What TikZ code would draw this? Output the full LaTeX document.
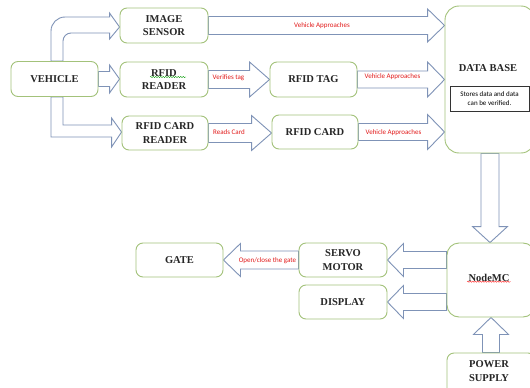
\documentclass[tikz,border=0pt]{standalone}
\usepackage{fontspec}
\setmainfont{Liberation Serif}
\newfontfamily\labfont{Carlito}
\usetikzlibrary{calc,decorations.pathmorphing}
\definecolor{boxgreen}{HTML}{A3C27A}
\definecolor{arrblue}{HTML}{7F93B7}
\definecolor{labred}{HTML}{E21B1B}
\pgfdeclarelayer{bg}
\pgfsetlayers{bg,main}
\tikzset{
  box/.style={draw=boxgreen,line width=0.9pt,fill=white,rounded corners=7pt,
    align=center,font=\fontsize{10.5}{13.5}\selectfont\bfseries,text=black!85,inner sep=1pt},
  barrow/.style={draw=arrblue,line width=0.9pt,fill=white,line join=miter},
  lab/.style={font=\labfont\fontsize{7}{8}\selectfont,text=labred,inner sep=0pt},
  squig/.style={decorate,decoration={snake,amplitude=0.6pt,segment length=2.5pt},line width=0.4pt}
}
% right block arrow: source, target, shaft half, head half, head length (y of source)
\newcommand\rarr[5]{\begin{pgfonlayer}{bg}\draw[barrow] let \p1=(#1.east), \p2=(#2.west) in
  (\x1,\y1+#3) -- (\x2-#5,\y1+#3) -- (\x2-#5,\y1+#4) -- (\x2,\y1) -- (\x2-#5,\y1-#4)
  -- (\x2-#5,\y1-#3) -- (\x1,\y1-#3) -- cycle;\end{pgfonlayer}}
% left block arrow: source, target (y of target)
\newcommand\larr[5]{\begin{pgfonlayer}{bg}\draw[barrow] let \p1=(#1.west), \p2=(#2.east) in
  (\x1,\y2+#3) -- (\x2+#5,\y2+#3) -- (\x2+#5,\y2+#4) -- (\x2,\y2) -- (\x2+#5,\y2-#4)
  -- (\x2+#5,\y2-#3) -- (\x1,\y2-#3) -- cycle;\end{pgfonlayer}}
% down block arrow
\newcommand\darr[5]{\begin{pgfonlayer}{bg}\draw[barrow] let \p1=(#1.south), \p2=(#2.north) in
  (\x1-#3,\y1) -- (\x1-#3,\y2+#5) -- (\x1-#4,\y2+#5) -- (\x1,\y2) -- (\x1+#4,\y2+#5)
  -- (\x1+#3,\y2+#5) -- (\x1+#3,\y1) -- cycle;\end{pgfonlayer}}
% up block arrow
\newcommand\uarr[5]{\begin{pgfonlayer}{bg}\draw[barrow] let \p1=(#1.north), \p2=(#2.south) in
  (\x1-#3,\y1) -- (\x1-#3,\y2-#5) -- (\x1-#4,\y2-#5) -- (\x1,\y2) -- (\x1+#4,\y2-#5)
  -- (\x1+#3,\y2-#5) -- (\x1+#3,\y1) -- cycle;\end{pgfonlayer}}
\begin{document}
\begin{tikzpicture}[x=1pt,y=1pt]
\begin{pgfonlayer}{bg}
\fill[white] (0,0) rectangle (530,-388);
\end{pgfonlayer}
\useasboundingbox (0,0) rectangle (530,-388);
% boxes
\node[box,minimum width=87pt,minimum height=35pt] (veh) at (54.5,-79) {VEHICLE};
\node[box,minimum width=88pt,minimum height=35pt] (img) at (164,-25.5) {IMAGE\\SENSOR};
\node[box,minimum width=88pt,minimum height=35pt] (rdr) at (164,-79.5) {RFID\\READER};
\node[box,minimum width=86pt,minimum height=34pt] (crd) at (165,-133) {RFID CARD\\READER};
\node[box,minimum width=87pt,minimum height=35pt] (tag) at (313.5,-79.5) {RFID TAG};
\node[box,minimum width=86pt,minimum height=34pt] (card) at (315,-132) {RFID CARD};
\node[box,minimum width=90pt,minimum height=147pt,rounded corners=14pt] (db) at (490,-79.5) {};
\node[font=\fontsize{10.5}{13.5}\selectfont\bfseries,text=black!85] (dbt) at (488,-68.5) {DATA BASE};
\node[draw=black!80,line width=1pt,minimum width=79pt,minimum height=25pt,align=center,
  font=\labfont\fontsize{7}{9}\selectfont,inner sep=0pt] (dbi) at (489.5,-98.5) {Stores data and data\\can be verified.};
\node[box,minimum width=88pt,minimum height=74pt,rounded corners=12pt] (mcu) at (491,-280) {};
\node[font=\fontsize{10.5}{13.5}\selectfont\bfseries,text=black!85] (mcut) at (489,-277.5) {NodeMC};
\node[box,minimum width=88pt,minimum height=34pt] (servo) at (343,-260) {SERVO\\MOTOR};
\node[box,minimum width=88pt,minimum height=34pt] (disp) at (343,-302) {DISPLAY};
\node[box,minimum width=87pt,minimum height=34pt] (gate) at (179.5,-260) {GATE};
\node[box,minimum width=88pt,minimum height=42pt] (pwr) at (491,-374) {};
\node[font=\fontsize{10.5}{13.5}\selectfont\bfseries,text=black!85,align=center] (pwrt) at (489,-371) {POWER\\SUPPLY};
% straight block arrows
\rarr{img}{db}{9pt}{16.5pt}{17pt}
\rarr{rdr}{tag}{9pt}{17.5pt}{20pt}
\rarr{tag}{db}{8.5pt}{17.5pt}{17pt}
\rarr{crd}{card}{9.5pt}{17.5pt}{20pt}
\rarr{card}{db}{8.5pt}{17.5pt}{17pt}
\rarr{veh}{rdr}{7.5pt}{14pt}{10pt}
\larr{mcu}{servo}{8.5pt}{16.5pt}{16pt}
\larr{mcu}{disp}{8.5pt}{16.5pt}{16pt}
\larr{servo}{gate}{9pt}{16.5pt}{17pt}
\darr{db}{mcu}{9pt}{17.5pt}{16pt}
\uarr{pwr}{mcu}{8.5pt}{17.5pt}{17pt}
% bent arrows from vehicle
\begin{pgfonlayer}{bg}
\draw[barrow] let \p1=(veh.north), \p2=(img.west) in
  (\x1-3.5pt,\y1) -- (\x1-3.5pt,\y2+8.5pt-14pt)
  arc[start angle=180,end angle=90,radius=14pt]
  -- (\x2-10pt,\y2+8.5pt)
  -- (\x2-10pt,\y2+12.5pt) -- (\x2,\y2-1.5pt) -- (\x2-10pt,\y2-13.5pt) -- (\x2-10pt,\y2-7.5pt)
  -- (\x1+8.5pt+8pt,\y2-7.5pt)
  arc[start angle=90,end angle=180,radius=8pt]
  -- (\x1+8.5pt,\y1) -- cycle;
\draw[barrow] let \p1=(veh.south), \p2=(crd.west) in
  (\x1-3.5pt,\y1) |- (\x2-10pt,\y2-4pt)
  -- (\x2-10pt,\y2-14pt) -- (\x2,\y2+1pt) -- (\x2-10pt,\y2+15pt) -- (\x2-10pt,\y2+8pt)
  -| (\x1+8.5pt,\y1) -- cycle;
\end{pgfonlayer}
% labels
\node[lab] (l1) at (322,-26) {Vehicle Approaches};
\node[lab] (l2) at (228.5,-78) {Verifies tag};
\node[lab] (l3) at (392.5,-77) {Vehicle Approaches};
\node[lab] (l4) at (229,-132) {Reads Card};
\node[lab] (l5) at (393.5,-133) {Vehicle Approaches};
\node[lab] (l6) at (267.5,-261) {Open/close the gate};
% spell-check squiggles
\draw[squig,red!80] ($(mcut.south west)+(2pt,3pt)$) -- ($(mcut.south east)+(-2pt,3pt)$);
\draw[squig,green!60!black] (150,-77) -- (186,-77);
\end{tikzpicture}
\end{document}
